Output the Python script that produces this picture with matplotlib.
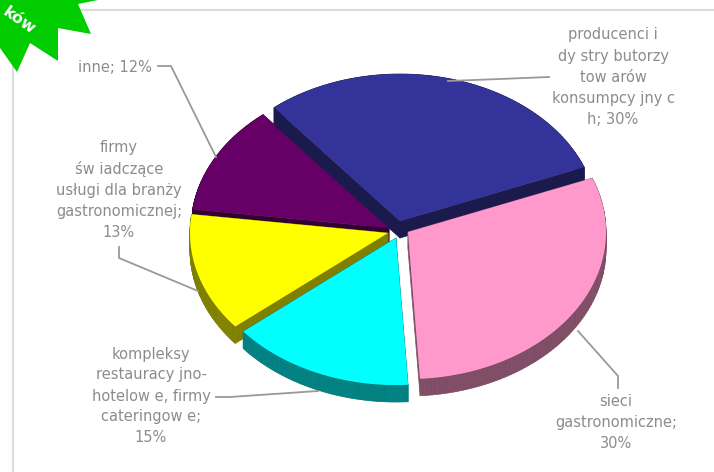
import numpy as np
import matplotlib
matplotlib.use('Agg')
import matplotlib.pyplot as plt
from matplotlib.collections import PolyCollection

# clockwise from the blue slice
labels = ['producenci i\ndy stry butorzy\ntow arów\nkonsumpcy jny c\nh; 30%',
          'sieci\ngastronomiczne;\n30%',
          'kompleksy\nrestauracy jno-\nhotelow e, firmy\ncateringow e;\n15%',
          'firmy\nśw iadczące\nusługi dla branży\ngastronomicznej;\n13%',
          'inne; 12%']
shares = [30, 30, 15, 13, 12]
top_colors = ['#333399', '#FF99CC', '#00FFFF', '#FFFF00', '#660066']
side_colors = ['#1A1A4D', '#804D66', '#008080', '#808000', '#330033']
# how far each slice is pulled out of the pie, in pixels
offsets = [(3, -8), (11, 3), (-1, 9), (-9, 4), (-8, -1)]

# pie geometry in pixels
cx, cy = 397, 229
rx, ry = 198, 147
depth = 17
start = 129.5
draw_order = [4, 0, 3, 2, 1]

label_pos = [(613, 77), (616, 423), (151, 396), (119, 190), (115, 67)]
leaders = [[(549, 77), (500, 79), (448, 81)],
           [(578, 331), (618, 376), (618, 388)],
           [(216, 397), (230, 397), (318, 391)],
           [(119, 247), (119, 258), (198, 291)],
           [(158, 66), (171, 66), (216, 157)]]

fig = plt.figure(figsize=(7.14, 4.72), dpi=100)
ax = fig.add_axes([0, 0, 1, 1])
ax.set_xlim(0, 714)
ax.set_ylim(472, 0)
ax.axis('off')

# frame behind the chart
ax.plot([13, 13], [60, 472], color='#dcdcdc', lw=1.5, zorder=0)
ax.plot([80, 714], [10, 10], color='#dcdcdc', lw=1.5, zorder=0)

# slice edges in degrees, going clockwise
edges = start - 3.6 * np.concatenate([[0], np.cumsum(shares)])

for i in draw_order:
    a1, a2 = np.radians(edges[i]), np.radians(edges[i + 1])
    ox = cx + offsets[i][0]
    oy = cy + offsets[i][1]
    t = np.linspace(a1, a2, 90)
    xs = np.concatenate([[ox], ox + rx * np.cos(t)])
    ys = np.concatenate([[oy], oy - ry * np.sin(t)])
    top = np.column_stack([xs, ys])
    # walls: one quad per outline segment, pushed down by depth
    low = top + [0, depth]
    quads = [[top[k], top[(k + 1) % len(top)], low[(k + 1) % len(top)], low[k]]
             for k in range(len(top))]
    ax.add_collection(PolyCollection(quads, facecolors=side_colors[i],
                                     edgecolors=side_colors[i], linewidths=0.5, zorder=2))
    ax.fill(xs, ys, color=top_colors[i], lw=0, zorder=2)

for pts in leaders:
    ax.plot(*zip(*pts), color='#999999', lw=1.3, zorder=3)

for lab, (x, y) in zip(labels, label_pos):
    ax.text(x, y, lab, ha='center', va='center', color='#8c8c8c',
            fontsize=10.5, linespacing=1.5, family='DejaVu Sans', zorder=4)

# green badge in the corner
badge = [(0, 48), (17, 72), (30, 43), (58, 61), (58, 28), (91, 34), (78, 4), (98, 0), (0, 0)]
ax.fill(*zip(*badge), color='#00CC00', lw=0, zorder=5)
ax.text(19, 21, 'ków', color='white', fontsize=11.5, fontweight='bold', rotation=-35,
        ha='center', va='center', zorder=6)

fig.savefig('out.png', dpi=100)
